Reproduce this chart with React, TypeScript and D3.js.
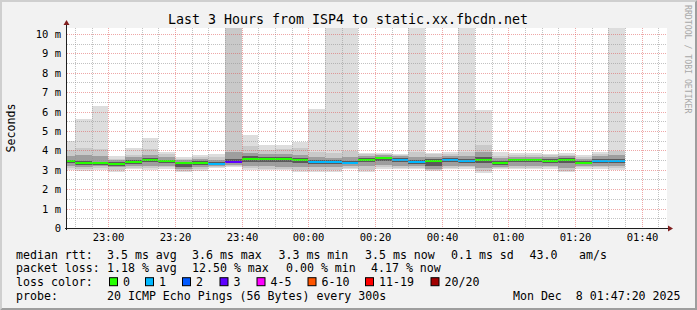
import React from "react";
import * as d3 from "d3";

const W = 697;
const H = 310;
const X0 = 67;
const X1 = 667;
const Y0 = 228;
const Y1 = 28;
const Y_MAX = 10.309;

const title = "Last 3 Hours from ISP4 to static.xx.fbcdn.net";
const yTickValues = [0, 1, 2, 3, 4, 5, 6, 7, 8, 9, 10];
const yTickLabels = ["0", "1 m", "2 m", "3 m", "4 m", "5 m", "6 m", "7 m", "8 m", "9 m", "10 m"];
const xTickLabels = ["23:00", "23:20", "23:40", "00:00", "00:20", "00:40", "01:00", "01:20", "01:40"];

// per 5-minute bin (ending 22:50 ... 01:35), values in ms
const pingMin = [3.0, 2.95, 3.0, 2.9, 3.05, 3.0, 3.05, 2.88, 2.95, 3.08, 3.12, 3.0, 3.0, 3.0, 2.9, 2.88, 2.87, 3.05, 2.9, 3.05, 3.05, 3.02, 2.95, 3.05, 3.05, 2.85, 3.02, 3.02, 3.02, 3.06, 2.87, 3.06, 3.06, 3.0];
const pingLo2 = [3.08, 3.05, 3.08, 3.0, 3.1, 3.07, 3.12, 2.95, 3.02, 3.12, 3.18, 3.08, 3.05, 3.05, 3.0, 2.98, 2.98, 3.1, 3.0, 3.12, 3.1, 3.08, 3.0, 3.1, 3.12, 2.95, 3.08, 3.1, 3.1, 3.12, 2.95, 3.12, 3.12, 3.08];
const pingLoQ = [3.2, 3.15, 3.18, 3.12, 3.2, 3.2, 3.22, 3.05, 3.12, 3.2, 3.25, 3.2, 3.18, 3.15, 3.12, 3.15, 3.12, 3.2, 3.2, 3.25, 3.2, 3.2, 3.05, 3.2, 3.22, 3.1, 3.15, 3.2, 3.22, 3.22, 3.1, 3.2, 3.22, 3.2];
const pingLoIn = [3.33, 3.25, 3.25, 3.2, 3.32, 3.4, 3.33, 3.15, 3.25, 3.27, 3.35, 3.4, 3.4, 3.4, 3.35, 3.3, 3.3, 3.28, 3.4, 3.45, 3.38, 3.32, 3.2, 3.38, 3.35, 3.35, 3.25, 3.38, 3.38, 3.35, 3.35, 3.28, 3.35, 3.35];
const median = [3.44, 3.33, 3.33, 3.3, 3.42, 3.52, 3.44, 3.35, 3.35, 3.3, 3.42, 3.56, 3.56, 3.56, 3.5, 3.42, 3.42, 3.35, 3.52, 3.62, 3.52, 3.42, 3.47, 3.52, 3.47, 3.52, 3.35, 3.52, 3.52, 3.47, 3.52, 3.35, 3.47, 3.47];
const pingHiIn = [3.52, 3.45, 3.42, 3.4, 3.5, 3.6, 3.52, 3.42, 3.45, 3.38, 3.55, 3.7, 3.68, 3.68, 3.62, 3.5, 3.5, 3.45, 3.6, 3.68, 3.6, 3.52, 3.55, 3.6, 3.58, 3.65, 3.45, 3.58, 3.58, 3.55, 3.6, 3.45, 3.58, 3.58];
const pingHiQ = [3.7, 3.75, 3.7, 3.5, 3.65, 3.75, 3.68, 3.5, 3.55, 3.5, 3.9, 3.85, 3.8, 3.8, 3.78, 3.65, 3.62, 3.65, 3.72, 3.75, 3.7, 3.68, 3.68, 3.72, 3.7, 3.9, 3.6, 3.68, 3.68, 3.65, 3.7, 3.58, 3.7, 3.75];
const pingHi2 = [4.0, 4.1, 4.05, 3.58, 3.78, 4.05, 3.8, 3.58, 3.68, 3.65, 11, 4.25, 4.0, 4.05, 4.1, 3.9, 3.85, 3.95, 3.82, 3.82, 3.76, 3.9, 3.8, 3.82, 3.9, 4.3, 3.72, 3.78, 3.76, 3.74, 3.78, 3.68, 3.8, 3.95];
const pingMax = [4.48, 5.62, 6.29, 3.71, 4.12, 4.64, 3.92, 3.66, 3.76, 3.81, 12, 4.8, 4.28, 4.28, 4.43, 6.13, 12, 12, 3.88, 3.86, 3.8, 12, 3.86, 3.9, 12, 6.08, 3.9, 3.85, 3.85, 3.8, 3.85, 3.78, 3.9, 12];
const lossCount = [0, 0, 0, 0, 0, 0, 0, 0, 0, 1, 3, 0, 0, 0, 0, 1, 1, 1, 0, 0, 1, 1, 0, 1, 1, 0, 0, 0, 0, 0, 0, 0, 1, 1];

const lossLabels = ["0", "1", "2", "3", "4-5", "6-10", "11-19", "20/20"];
const lossUpper = [0, 1, 2, 3, 5, 10, 19, 20];
const lossColors = ["#26ff00", "#00b8ff", "#0059ff", "#5e00ff", "#ff00ff", "#ff5500", "#ff0000", "#a10000"];

const rttLabel = "median rtt:";
const rttStats = ["3.5 ms avg", "3.6 ms max", "3.3 ms min", "3.5 ms now", "0.1 ms sd", "43.0", "am/s"];
const lossLabel = "packet loss:";
const lossStats = ["1.18 % avg", "12.50 % max", "0.00 % min", "4.17 % now"];
const colorLabel = "loss color:";
const probeLabel = "probe:";
const probeText = "20 ICMP Echo Pings (56 Bytes) every 300s";
const dateText = "Mon Dec  8 01:47:20 2025";
const yAxisTitle = "Seconds";
const credit = "RRDTOOL / TOBI OETIKER";

// layout
const rttX = [107, 192, 278.5, 365, 451, 529.5, 579];
const lossX = [107, 192, 286, 371];
const boxX = [109, 145, 182, 219.5, 256.5, 307.5, 365, 430.5];
const lineY = [258.5, 272.4, 286.2, 300];

const FONT = "'DejaVu Sans Mono', monospace";

const start = new Date(2025, 11, 7, 22, 47, 35);
const end = new Date(2025, 11, 8, 1, 47, 35);
const firstBinEnd = new Date(2025, 11, 7, 22, 50, 0);

function tickTime(label: string): Date {
  const [h, m] = label.split(":").map(Number);
  return h >= 12 ? new Date(2025, 11, 7, h, m) : new Date(2025, 11, 8, h, m);
}

export default function App() {
  const x = d3.scaleTime().domain([start, end]).range([X0, X1]).clamp(true);
  const y = d3.scaleLinear().domain([0, Y_MAX]).range([Y0, Y1]).clamp(true);

  const binEnds = median.map((_, i) => d3.timeMinute.offset(firstBinEnd, 5 * i));
  const bins = median.map((m, i) => {
    const e = binEnds[i];
    const s = d3.timeMinute.offset(e, -5);
    const xa = Math.round(x(s));
    const xb = Math.round(x(e));
    const li = lossUpper.findIndex((u) => lossCount[i] <= u);
    return { xa, xb, i, m, color: lossColors[li] };
  });

  const bands: [number[], number[], string][] = [
    [pingMin, pingMax, "#dddddd"],
    [pingLo2, pingHi2, "#c9c9c9"],
    [pingLoQ, pingHiQ, "#9e9e9e"],
    [pingLoIn, pingHiIn, "#5a5a5a"],
  ];

  const minorX = d3.timeMinute.every(5)!.range(start, end);
  const majorXTimes = xTickLabels.map(tickTime);
  const majorXSet = new Set(majorXTimes.map((d) => +d));
  const minorY = d3.range(1, 21).map((k) => k * 0.5).filter((v) => v % 1 !== 0);

  const gridCol = "rgba(143,143,143,0.55)";
  const mgridCol = "rgba(222,79,79,0.5)";
  const axisCol = "#1f1f1f";
  const arrowCol = "#801f1f";

  return (
    <svg width={W} height={H} style={{ display: "block", position: "absolute", left: 0, top: 0 }}>
      <rect x={0} y={0} width={W} height={H} fill="#f2f2f2" />
      <polygon points={`0,0 ${W},0 ${W - 2},2 2,2 2,${H - 2} 0,${H}`} fill="#cfcfcf" />
      <polygon points={`${W},0 ${W},${H} 0,${H} 2,${H - 2} ${W - 2},${H - 2} ${W - 2},2`} fill="#9e9e9e" />
      <rect x={X0} y={Y1} width={X1 - X0} height={Y0 - Y1} fill="#ffffff" />

      {/* smoke */}
      <g shapeRendering="crispEdges">
        {bands.map(([lo, hi, col], bi) =>
          bins.map((b) => {
            const ya = Math.round(y(hi[b.i]));
            const yb = Math.round(y(lo[b.i]));
            return <rect key={`s${bi}-${b.i}`} x={b.xa} y={ya} width={b.xb - b.xa} height={Math.max(0, yb - ya)} fill={col} />;
          })
        )}
        {bins.map((b) => {
          const ym = Math.round(y(b.m));
          return <rect key={`m${b.i}`} x={b.xa} y={ym - 1} width={b.xb - b.xa} height={2} fill={b.color} />;
        })}
      </g>

      {/* grid */}
      <g strokeWidth={1} strokeDasharray="1,1" fill="none">
        {minorY.map((v) => (
          <line key={`gy${v}`} x1={X0} x2={X1} y1={Math.round(y(v)) + 0.5} y2={Math.round(y(v)) + 0.5} stroke={gridCol} />
        ))}
        {minorX.filter((t) => !majorXSet.has(+t)).map((t) => (
          <line key={`gx${+t}`} x1={Math.round(x(t)) + 0.5} x2={Math.round(x(t)) + 0.5} y1={Y1} y2={Y0} stroke={gridCol} />
        ))}
        {yTickValues.filter((v) => v > 0).map((v) => (
          <line key={`my${v}`} x1={X0} x2={X1} y1={Math.round(y(v)) + 0.5} y2={Math.round(y(v)) + 0.5} stroke={mgridCol} />
        ))}
        {majorXTimes.map((t) => (
          <line key={`mx${+t}`} x1={Math.round(x(t)) + 0.5} x2={Math.round(x(t)) + 0.5} y1={Y1} y2={Y0} stroke={mgridCol} />
        ))}
      </g>

      {/* axes */}
      <line x1={X0 - 0.5} x2={X0 - 0.5} y1={Y0 + 2} y2={Y1 - 4} stroke={axisCol} strokeWidth={1} />
      <line x1={X0 - 2} x2={X1 + 2} y1={Y0 + 0.5} y2={Y0 + 0.5} stroke={axisCol} strokeWidth={1} />
      <polygon points={`${X0 - 3.5},${Y1 - 3} ${X0 + 2.5},${Y1 - 3} ${X0 - 0.5},${Y1 - 8}`} fill={arrowCol} />
      <polygon points={`${X1 + 1},${Y0 - 2.5} ${X1 + 1},${Y0 + 3.5} ${X1 + 6},${Y0 + 0.5}`} fill={arrowCol} />

      {/* labels */}
      <g fontFamily={FONT} fontSize={10.5} fill="#000">
        {yTickValues.map((v, k) => (
          <text key={`yl${v}`} x={61} y={Math.round(y(v)) + 4} textAnchor="end">{yTickLabels[k]}</text>
        ))}
        {majorXTimes.map((t, k) => (
          <text key={`xl${k}`} x={Math.round(x(t)) + 0.5} y={241} textAnchor="middle">{xTickLabels[k]}</text>
        ))}
      </g>

      <text x={348} y={23.5} textAnchor="middle" fontFamily={FONT} fontSize={13.3} fill="#000">{title}</text>
      <text transform={`translate(14.5,${(Y0 + Y1) / 2}) rotate(-90)`} textAnchor="middle" fontFamily={FONT} fontSize={11.6} fill="#000">{yAxisTitle}</text>
      <text transform={`translate(685,5) rotate(90)`} fontFamily={FONT} fontSize={8.2} fill="#a8a8a8">{credit}</text>

      <g fontFamily={FONT} fontSize={11.6} fill="#000" style={{ whiteSpace: "pre" }}>
        <text x={16} y={lineY[0]}>{rttLabel}</text>
        {rttStats.map((s, k) => (
          <text key={`r${k}`} x={rttX[k]} y={lineY[0]}>{s}</text>
        ))}
        <text x={16} y={lineY[1]}>{lossLabel}</text>
        {lossStats.map((s, k) => (
          <text key={`l${k}`} x={lossX[k]} y={lineY[1]}>{s}</text>
        ))}
        <text x={16} y={lineY[2]}>{colorLabel}</text>
        {lossLabels.map((s, k) => (
          <g key={`c${k}`}>
            <rect x={boxX[k] + 0.5} y={lineY[2] - 8.5} width={8} height={8} fill={lossColors[k]} stroke="#000" strokeWidth={1} />
            <text x={boxX[k] + 14} y={lineY[2]}>{s}</text>
          </g>
        ))}
        <text x={16} y={lineY[3]}>{probeLabel}</text>
        <text x={107} y={lineY[3]}>{probeText}</text>
        <text x={680.5} y={lineY[3]} textAnchor="end" xmlSpace="preserve">{dateText}</text>
      </g>
    </svg>
  );
}
